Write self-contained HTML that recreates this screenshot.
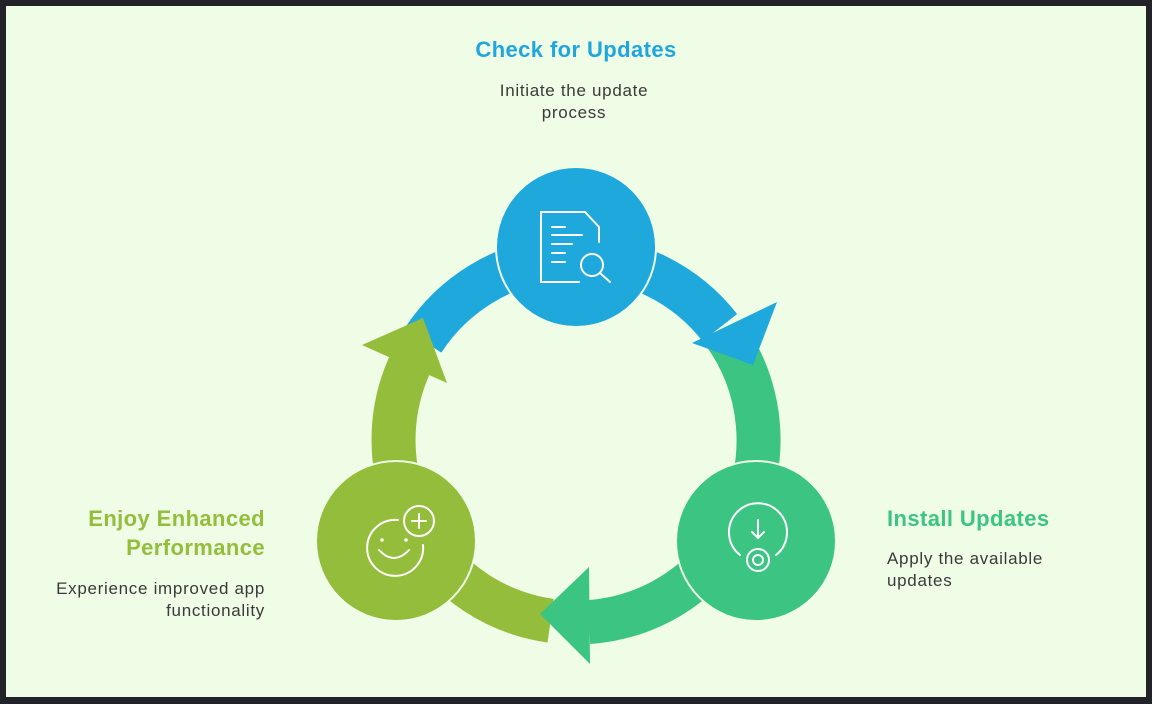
<!DOCTYPE html>
<html><head><meta charset="utf-8"><style>
html,body{margin:0;padding:0;background:#222326;}
svg{display:block;}
text{font-family:"Liberation Sans",Arial,sans-serif;}
.d{font-size:17px;letter-spacing:0.7px;fill:#3a3a3a;}
.t{font-size:22px;font-weight:bold;letter-spacing:0.4px;}
</style></head><body>
<svg width="1152" height="704" viewBox="0 0 1152 704" xmlns="http://www.w3.org/2000/svg">
<rect x="0" y="0" width="1152" height="704" fill="#222326"/>
<rect x="6" y="6" width="1140" height="691" fill="#effde6"/>

<path d="M422.9,340.6 A182.5,182.5 0 0 1 719.8,327.6" fill="none" stroke="#1fa8dc" stroke-width="44"/>
<path d="M725.5,335.3 A182.5,182.5 0 0 1 588.7,622.1" fill="none" stroke="#3cc483" stroke-width="44"/>
<path d="M550.6,620.7 A182.5,182.5 0 0 1 409.3,365.8" fill="none" stroke="#93bd3a" stroke-width="44"/>

<polygon points="692,343 777,302 753,365" fill="#1fa8dc"/>
<polygon points="589,567 590,664 540,614" fill="#3cc483"/>
<polygon points="447,383 362,345 423,318" fill="#93bd3a"/>

<circle cx="576" cy="247" r="80" fill="#1fa8dc" stroke="#effde6" stroke-width="2"/>
<circle cx="756" cy="541" r="80" fill="#3cc483" stroke="#effde6" stroke-width="2"/>
<circle cx="396" cy="541" r="80" fill="#93bd3a" stroke="#effde6" stroke-width="2"/>

<g fill="none" stroke="#fff" stroke-width="2" stroke-linecap="round">
<path d="M579,282 L541,282 L541,212 L585,212 L599,227 L599,242"/>
<line x1="552" y1="227" x2="565" y2="227"/>
<line x1="552" y1="235" x2="582" y2="235"/>
<line x1="552" y1="244" x2="572" y2="244"/>
<line x1="552" y1="253" x2="565" y2="253"/>
<line x1="552" y1="262" x2="565" y2="262"/>
<circle cx="592" cy="265" r="11"/>
<line x1="600" y1="273" x2="610" y2="282"/>
</g>
<g fill="none" stroke="#fff" stroke-width="2" stroke-linecap="round">
<path d="M740,555 A29,29 0 1 1 776,555"/>
<line x1="758" y1="520" x2="758" y2="538"/>
<polyline points="752,532 758,538 764,532"/>
<circle cx="758" cy="560" r="11"/>
<circle cx="758" cy="560" r="5"/>
</g>
<g fill="none" stroke="#fff" stroke-width="2" stroke-linecap="round">
<path d="M398,520 A28,28 0 1 0 423,545"/>
<circle cx="419" cy="521" r="15"/>
<line x1="419" y1="514" x2="419" y2="528"/>
<line x1="412" y1="521" x2="426" y2="521"/>
<path d="M379,550 Q394,566 409,550"/>
</g>
<circle cx="382" cy="540" r="1.8" fill="#fff"/>
<circle cx="406" cy="540" r="1.8" fill="#fff"/>

<text x="576" y="57" text-anchor="middle" class="t" fill="#20a6de">Check for Updates</text>
<text x="574" y="96" text-anchor="middle" class="d">Initiate the update</text>
<text x="574" y="118" text-anchor="middle" class="d">process</text>

<text x="887" y="526" class="t" fill="#3cc483">Install Updates</text>
<text x="887" y="564" class="d">Apply the available</text>
<text x="887" y="586" class="d">updates</text>

<text x="265" y="526" text-anchor="end" class="t" fill="#93bd3a">Enjoy Enhanced</text>
<text x="265" y="555" text-anchor="end" class="t" fill="#93bd3a">Performance</text>
<text x="265" y="594" text-anchor="end" class="d">Experience improved app</text>
<text x="265" y="616" text-anchor="end" class="d">functionality</text>
</svg>
</body></html>
